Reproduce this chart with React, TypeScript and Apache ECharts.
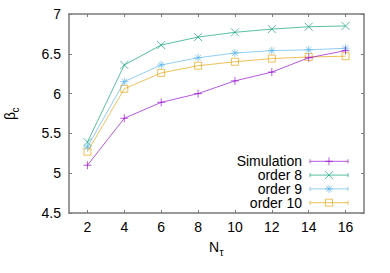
import React, { useEffect, useRef } from 'react';
import * as echarts from 'echarts';

const nTau = [2, 4, 6, 8, 10, 12, 14, 16];
const simulation = [5.1, 5.69, 5.89, 6.0, 6.16, 6.27, 6.45, 6.54];
const order8 = [5.39, 6.36, 6.61, 6.71, 6.77, 6.81, 6.84, 6.85];
const order9 = [5.33, 6.15, 6.36, 6.45, 6.51, 6.54, 6.55, 6.57];
const order10 = [5.27, 6.06, 6.26, 6.35, 6.4, 6.44, 6.46, 6.47];
const seriesNames = ['Simulation', 'order 8', 'order 9', 'order 10'];
const xTicks = [2, 4, 6, 8, 10, 12, 14, 16];
const yTicks = [4.5, 5, 5.5, 6, 6.5, 7];

const FONT = '"Liberation Sans", Arial, sans-serif';
const colors = ['#9400d3', '#009e73', '#56b4e9', '#e69f00'];
const kinds = ['plus', 'cross', 'star', 'square'];
const symbolPaths: Record<string, string> = {
  plus: 'path://M5 0V10M0 5H10',
  cross: 'path://M0 0L10 10M10 0L0 10',
  star: 'path://M5 0V10M0 5H10M1.5 1.5L8.5 8.5M8.5 1.5L1.5 8.5',
  square: 'path://M0 0H10V10H0Z',
};
const OP = 0.65;

function markerGraphic(kind: string, cx: number, cy: number, color: string) {
  const s = 4;
  const st = { stroke: color, lineWidth: 1, opacity: OP };
  const ln = (x1: number, y1: number, x2: number, y2: number) => ({
    type: 'line',
    shape: { x1, y1, x2, y2 },
    style: st,
    silent: true,
  });
  if (kind === 'plus') return [ln(cx - s, cy, cx + s, cy), ln(cx, cy - s, cx, cy + s)];
  if (kind === 'cross') return [ln(cx - s, cy - s, cx + s, cy + s), ln(cx + s, cy - s, cx - s, cy + s)];
  if (kind === 'star') {
    const d = 2.9;
    return [
      ln(cx - s, cy, cx + s, cy),
      ln(cx, cy - s, cx, cy + s),
      ln(cx - d, cy - d, cx + d, cy + d),
      ln(cx + d, cy - d, cx - d, cy + d),
    ];
  }
  return [
    {
      type: 'rect',
      shape: { x: cx - 3.5, y: cy - 3.5, width: 7, height: 7 },
      style: { ...st, fill: 'none' },
      silent: true,
    },
  ];
}

export default function App() {
  const ref = useRef<HTMLDivElement>(null);
  useEffect(() => {
    if (!ref.current) return;
    const chart = echarts.init(ref.current, undefined, { renderer: 'svg' });
    const dataSets = [simulation, order8, order9, order10];

    const series = dataSets.map((vals, i) => ({
      name: seriesNames[i],
      type: 'line',
      data: nTau.map((x, j) => [x, vals[j]]),
      symbol: symbolPaths[kinds[i]],
      symbolSize: kinds[i] === 'square' ? 7 : 8,
      showSymbol: true,
      lineStyle: { color: colors[i], width: 1, opacity: OP },
      itemStyle: { color: 'rgba(0,0,0,0)', borderColor: colors[i], borderWidth: 1, opacity: OP },
      z: 10 - i,
    }));

    const legendEls: any[] = [];
    seriesNames.forEach((name, i) => {
      const y = 161.3 + 13.8 * i;
      legendEls.push({
        type: 'text',
        x: 302,
        y,
        style: {
          text: name,
          font: `14px ${FONT}`,
          lineHeight: 12,
          fill: '#000',
          align: 'right',
          verticalAlign: 'middle',
          textAlign: 'right',
          textVerticalAlign: 'middle',
        },
        silent: true,
      });
      const st = { stroke: colors[i], lineWidth: 1, opacity: OP };
      legendEls.push({ type: 'line', shape: { x1: 310, y1: y, x2: 348, y2: y }, style: st, silent: true });
      legendEls.push({ type: 'line', shape: { x1: 310, y1: y - 2, x2: 310, y2: y + 2 }, style: st, silent: true });
      legendEls.push({ type: 'line', shape: { x1: 348, y1: y - 2, x2: 348, y2: y + 2 }, style: st, silent: true });
      legendEls.push(...markerGraphic(kinds[i], 329, y, colors[i]));
    });

    const axisLine = { show: true, lineStyle: { color: '#7a7a7a', width: 1.5 } };
    const axisTick = { show: true, inside: true, length: 3, lineStyle: { color: '#7a7a7a', width: 1 } };

    chart.setOption({
      animation: false,
      backgroundColor: '#fff',
      grid: { left: 69, right: 26, top: 14, bottom: 60, containLabel: false },
      xAxis: [
        {
          type: 'value',
          min: 1,
          max: 17,
          position: 'bottom',
          axisLine,
          axisTick: { ...axisTick, customValues: xTicks },
          axisLabel: { customValues: xTicks, color: '#000', fontSize: 14, fontFamily: FONT, margin: 7 },
          splitLine: { show: false },
        },
        {
          type: 'value',
          min: 1,
          max: 17,
          position: 'top',
          axisLine,
          axisTick: { ...axisTick, customValues: xTicks },
          axisLabel: { show: false },
          splitLine: { show: false },
        },
      ],
      yAxis: [
        {
          type: 'value',
          min: 4.5,
          max: 7,
          interval: 0.5,
          position: 'left',
          axisLine,
          axisTick: { ...axisTick, customValues: yTicks },
          axisLabel: {
            customValues: yTicks,
            color: '#000',
            fontSize: 14,
            fontFamily: FONT,
            margin: 8,
            formatter: (v: number) => String(v),
          },
          splitLine: { show: false },
        },
        {
          type: 'value',
          min: 4.5,
          max: 7,
          interval: 0.5,
          position: 'right',
          axisLine,
          axisTick: { ...axisTick, customValues: yTicks },
          axisLabel: { show: false },
          splitLine: { show: false },
        },
      ],
      series,
      graphic: [
        ...legendEls,
        {
          type: 'text',
          x: 214,
          y: 247,
          style: { text: 'N', font: `14px ${FONT}`, fill: '#000', align: 'center', verticalAlign: 'middle', textAlign: 'center', textVerticalAlign: 'middle' },
          silent: true,
        },
        {
          type: 'text',
          x: 221.5,
          y: 252.5,
          style: { text: 'τ', font: `10px ${FONT}`, fill: '#000', align: 'center', verticalAlign: 'middle', textAlign: 'center', textVerticalAlign: 'middle' },
          silent: true,
        },
        {
          type: 'group',
          x: 10,
          y: 114,
          rotation: Math.PI / 2,
          silent: true,
          children: [
            {
              type: 'text',
              x: -2,
              y: 0,
              style: { text: 'β', font: `14px ${FONT}`, fill: '#000', align: 'center', verticalAlign: 'middle', textAlign: 'center', textVerticalAlign: 'middle' },
            },
            {
              type: 'text',
              x: 4,
              y: 5.5,
              style: { text: 'c', font: `10px ${FONT}`, fill: '#000', align: 'center', verticalAlign: 'middle', textAlign: 'center', textVerticalAlign: 'middle' },
            },
          ],
        },
      ],
    });
    return () => chart.dispose();
  }, []);
  return (
    <div
      ref={ref}
      style={{ position: 'fixed', left: 0, top: 0, width: 390, height: 273, background: '#fff' }}
    />
  );
}
